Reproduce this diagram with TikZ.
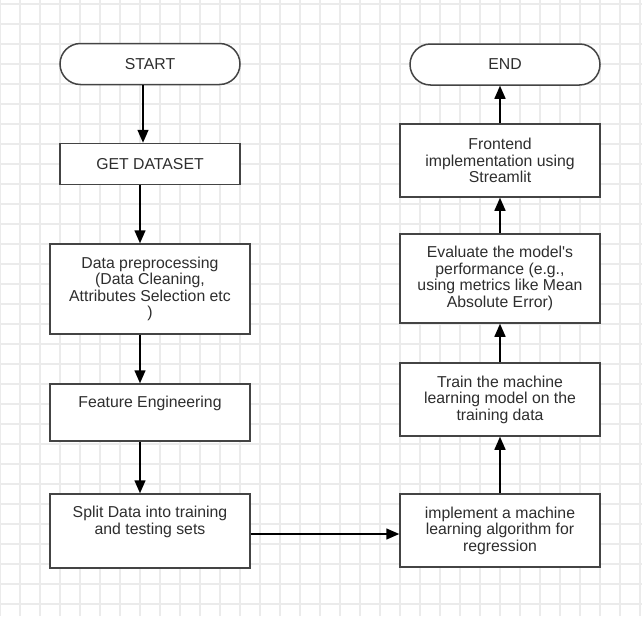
\documentclass[tikz,border=0pt]{standalone}
\usepackage{fontspec}
\setmainfont{Liberation Sans}[Ligatures=TeXOff]
\usetikzlibrary{arrows.meta}
\definecolor{gridc}{HTML}{EBEBEB}
\definecolor{boxc}{HTML}{444444}
\definecolor{txtc}{HTML}{2E2E2E}
\begin{document}
\begin{tikzpicture}[x=1pt,y=-1pt,
  box/.style={draw=boxc, line width=1.5pt, fill=white, text=txtc, align=center,
    inner sep=0pt, font=\fontsize{15.8}{16.5}\selectfont},
  term/.style={box, rounded corners=20.5pt},
  arr/.style={draw=black, line width=1.5pt, -{Triangle[length=13pt,width=11pt]}}]
\fill[white] (0,0) rectangle (642,616);
\useasboundingbox (0,0) rectangle (642,616);
\foreach \x in {0,20,...,640} \draw[gridc, line width=1.2pt] (\x,0) -- (\x,616);
\foreach \y in {4,24,...,604} \draw[gridc, line width=1.2pt] (0,\y) -- (642,\y);

% left column
\node[term, minimum width=180pt, minimum height=41pt] (start) at (150,64) {START};
\node[box, minimum width=180pt, minimum height=41pt] (get) at (150,164) {GET DATASET};
\node[box, minimum width=200pt, minimum height=90pt] (dp) at (150,289)
  {Data preprocessing\\(Data Cleaning,\\Attributes Selection etc\\)};
\node[box, minimum width=200pt, minimum height=57pt] (fe) at (150,412.5)
  {Feature Engineering\\\strut};
\node[box, minimum width=200pt, minimum height=74pt] (split) at (150,531)
  {Split Data into training\\and testing sets\\\strut};

% right column
\node[box, minimum width=200pt, minimum height=73pt] (impl) at (500,530.5)
  {implement a machine\\learning algorithm for\\regression};
\node[box, minimum width=200pt, minimum height=73pt] (train) at (500,399.5)
  {Train the machine\\learning model on the\\training data};
\node[box, minimum width=200pt, minimum height=89pt] (eval) at (500,278.5)
  {Evaluate the model's\\performance (e.g.,\\using metrics like Mean\\Absolute Error)};
\node[box, minimum width=200pt, minimum height=73pt] (front) at (500,160.5)
  {Frontend\\implementation using\\Streamlit};
\node[term, minimum width=190pt, minimum height=41pt] (end) at (505,64.5) {END};

% connectors
\draw[arr] ([xshift=-7pt]start.south) -- ([xshift=-7pt]get.north);
\draw[arr] ([xshift=-10pt]get.south) -- ([xshift=-10pt]dp.north);
\draw[arr] ([xshift=-10pt]dp.south) -- ([xshift=-10pt]fe.north);
\draw[arr] ([xshift=-10pt]fe.south) -- ([xshift=-10pt]split.north);
\draw[arr] ([yshift=-3pt]split.east) -- ([yshift=-3pt]split.east -| impl.west);
\draw[arr] (impl.north) -- (train.south);
\draw[arr] (train.north) -- (eval.south);
\draw[arr] (eval.north) -- (front.south);
\draw[arr] (front.north) -- (front.north |- end.south);
\end{tikzpicture}
\end{document}
